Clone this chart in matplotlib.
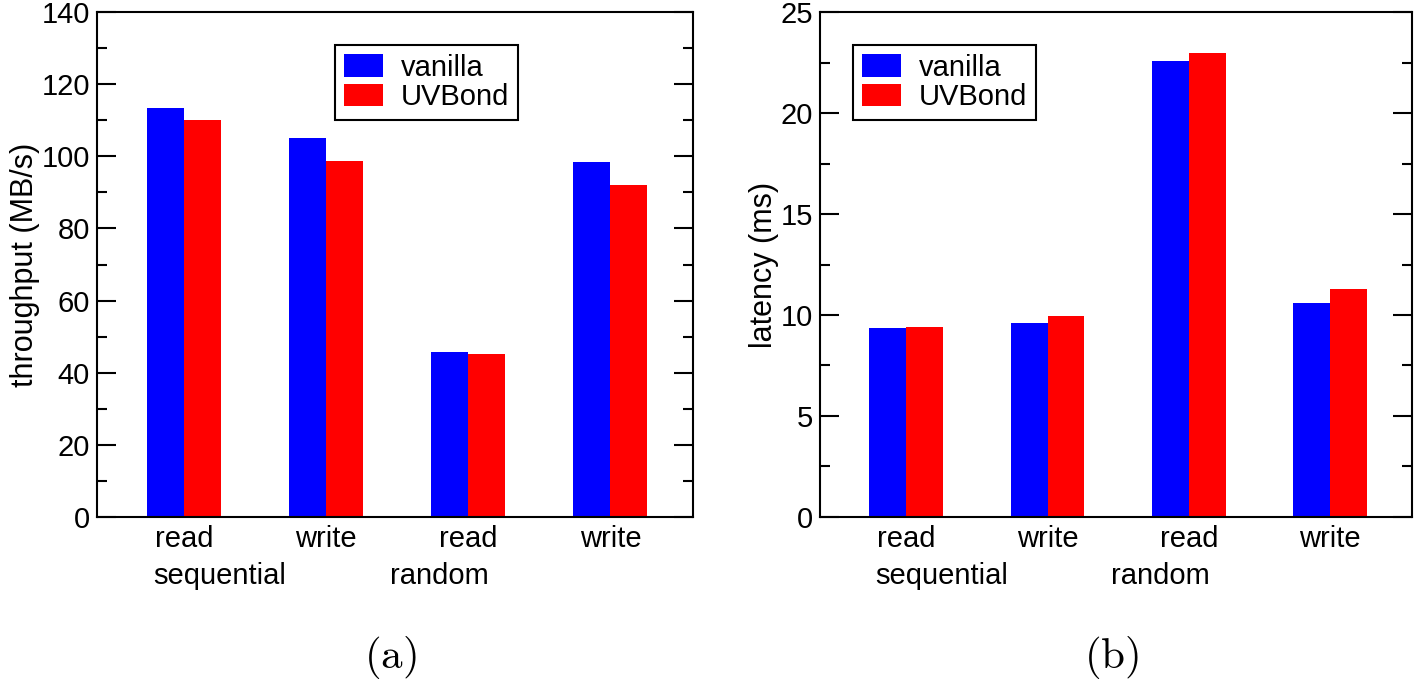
import matplotlib
matplotlib.use("Agg")
import matplotlib.pyplot as plt
import numpy as np
from matplotlib.ticker import MultipleLocator

plt.rcParams['font.family'] = ['Liberation Sans', 'DejaVu Sans']
plt.rcParams['mathtext.fontset'] = 'cm'

# data
ops = ['read', 'write', 'read', 'write']
patterns = ['sequential', 'random']
throughput_vanilla = [113.3, 105.0, 45.8, 98.5]
throughput_uvbond = [110.0, 98.7, 45.2, 92.0]
latency_vanilla = [9.38, 9.62, 22.57, 10.57]
latency_uvbond = [9.42, 9.97, 22.95, 11.27]

blue = '#0000ff'
red = '#ff0000'
FS = 21


def draw_panel(ax, vanilla, uvbond, ylim, major, minor, ylabel, legend_loc):
    x = np.arange(1, len(ops) + 1)
    w = 0.26
    ax.bar(x - w / 2, vanilla, w, color=blue, label='vanilla')
    ax.bar(x + w / 2, uvbond, w, color=red, label='UVBond')
    ax.set_xlim(0.39, 4.58)
    ax.set_ylim(*ylim)
    ax.yaxis.set_major_locator(MultipleLocator(major))
    ax.yaxis.set_minor_locator(MultipleLocator(minor))
    ax.set_xticks(x)
    ax.set_xticklabels(ops, fontsize=FS)
    ax.tick_params(axis='x', length=0, pad=6)
    ax.tick_params(axis='y', which='both', direction='in', right=True,
                   width=1.5, labelsize=FS, pad=5)
    ax.tick_params(axis='y', which='major', length=13.5)
    ax.tick_params(axis='y', which='minor', length=7)
    for s in ax.spines.values():
        s.set_linewidth(1.5)
    ax.set_ylabel(ylabel, fontsize=22, labelpad=1)
    # second line of group labels
    trans = ax.get_xaxis_transform()
    ax.text(1.25, -0.116, patterns[0], transform=trans, ha='center',
            va='center', fontsize=FS)
    ax.text(2.80, -0.116, patterns[1], transform=trans, ha='center',
            va='center', fontsize=FS)
    leg = ax.legend(loc='upper left', bbox_to_anchor=legend_loc, fontsize=FS,
                    fancybox=False, framealpha=1, edgecolor='black',
                    handlelength=1.35, handleheight=0.8, labelspacing=0.05,
                    borderpad=0.3, handletextpad=0.6, borderaxespad=0)
    leg.get_frame().set_linewidth(1.5)


fig = plt.figure(figsize=(14.18, 6.79), dpi=100)
ax1 = fig.add_axes([0.0684, 0.2386, 0.4203, 0.7437])
ax2 = fig.add_axes([0.5783, 0.2386, 0.4175, 0.7437])

draw_panel(ax1, throughput_vanilla, throughput_uvbond, (0, 140), 20, 10,
           'throughput (MB/s)', (0.399, 0.935))
draw_panel(ax2, latency_vanilla, latency_uvbond, (0, 25), 5, 2.5,
           'latency (ms)', (0.056, 0.935))

fig.text(0.275, 0.032, r'$\mathrm{(a)}$', ha='center', va='center', fontsize=31)
fig.text(0.784, 0.032, r'$\mathrm{(b)}$', ha='center', va='center', fontsize=31)

fig.savefig('out.png', dpi=100)
